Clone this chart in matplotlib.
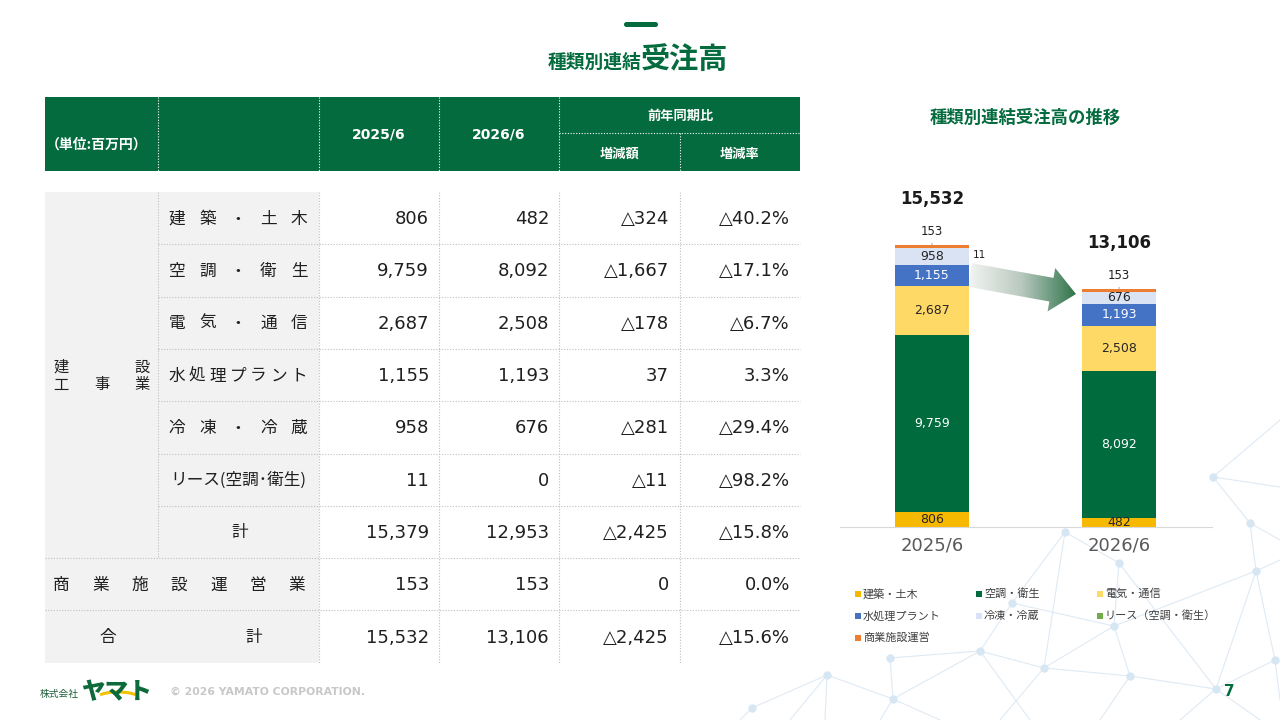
import numpy as np
import matplotlib
matplotlib.use('Agg')
import matplotlib.pyplot as plt
from matplotlib.patches import Rectangle, Polygon, FancyBboxPatch, Arc

plt.rcParams['font.family'] = ['Noto Sans CJK JP', 'DejaVu Sans']
NUMFONT = ['DejaVu Sans', 'Noto Sans CJK JP']

# ---- data (単位: 百万円) ----
periods = ['2025/6', '2026/6']
table_labels = ['建築・土木', '空調・衛生', '電気・通信', '水処理プラント', '冷凍・冷蔵', 'リース(空調･衛生)']
chart_labels = ['建築・土木', '空調・衛生', '電気・通信', '水処理プラント', '冷凍・冷蔵',
                'リース（空調・衛生）', '商業施設運営']
orders_2025 = [806, 9759, 2687, 1155, 958, 11]
orders_2026 = [482, 8092, 2508, 1193, 676, 0]
diff_amount = [-324, -1667, -178, 37, -281, -11]
diff_rate = [-40.2, -17.1, -6.7, 3.3, -29.4, -98.2]

subtotal = [15379, 12953, -2425, -15.8]
commercial = [153, 153, 0, 0.0]
grand_total = [15532, 13106, -2425, -15.6]

colors = ['#f7b900', '#006b3c', '#ffd966', '#4472c4', '#dae3f3', '#70ad47', '#ed7d31']
label_colors = ['#262626', 'white', '#262626', 'white', '#262626']

GREEN = '#036b3d'
DARK = '#1f1f1f'


def fmt(v, pct=False):
    s = f'{abs(v):,.1f}%' if pct else f'{abs(v):,}'
    return '△' + s if v < 0 else s


fig = plt.figure(figsize=(12.8, 7.2), dpi=100)

# background axes in pixel coords (slide furniture + table)
bg = fig.add_axes([0, 0, 1, 1], zorder=0)
bg.set_xlim(0, 1280)
bg.set_ylim(720, 0)
bg.set_autoscale_on(False)
bg.axis('off')

# decorative network
nodes = {
    'a': (1213, 477), 'b': (1250, 523), 'c': (1256, 571), 'd': (1275, 660),
    'e': (1065, 532), 'f': (1119, 563), 'g': (1012, 603), 'h': (1114, 626),
    'i': (980, 651), 'j': (1044, 668), 'k': (1130, 676), 'l': (1216, 689),
    'm': (827, 675), 'n': (893, 699), 'o': (752, 708), 'p': (890, 658),
}
edges = [('a', 'b'), ('b', 'c'), ('c', 'l'), ('c', 'h'), ('e', 'g'), ('e', 'f'), ('e', 'j'),
         ('f', 'h'), ('f', 'l'), ('g', 'i'), ('g', 'h'), ('h', 'j'), ('h', 'k'), ('i', 'j'),
         ('i', 'n'), ('i', 'p'), ('j', 'k'), ('k', 'l'), ('l', 'd'), ('m', 'n'), ('m', 'o'),
         ('p', 'n'), ('c', 'd')]
loose = [('a', (1280, 487)), ('a', (1280, 420)), ('b', (1280, 540)), ('c', (1280, 560)),
         ('i', (1030, 720)), ('j', (1000, 720)), ('k', (1100, 720)), ('l', (1180, 720)),
         ('m', (825, 720)), ('m', (790, 720)), ('n', (880, 720)), ('n', (940, 720)),
         ('o', (740, 720)), ('d', (1280, 700)), ('l', (1260, 720))]
for u, v in edges:
    bg.plot([nodes[u][0], nodes[v][0]], [nodes[u][1], nodes[v][1]], color='#dfeaf4', lw=0.8, zorder=0)
for u, p in loose:
    bg.plot([nodes[u][0], p[0]], [nodes[u][1], p[1]], color='#dfeaf4', lw=0.8, zorder=0)
bg.scatter([p[0] for p in nodes.values()], [p[1] for p in nodes.values()],
           s=36, color='#d6e6f3', zorder=0, linewidths=0)

# title
bg.add_patch(FancyBboxPatch((624, 22), 34, 5, boxstyle='round,pad=0,rounding_size=2.5',
                            color=GREEN, lw=0))
bg.text(641, 68, '種類別連結', ha='right', va='baseline', fontsize=13.5, fontweight='bold', color=GREEN)
bg.text(641, 68, '受注高', ha='left', va='baseline', fontsize=21, fontweight='bold', color=GREEN)

# ---- table ----
col_x = [45, 158, 319, 439, 559, 680, 800]
bg.add_patch(Rectangle((45, 97), 755, 74, color=GREEN, lw=0))
for xv in col_x[1:5]:
    bg.plot([xv, xv], [97, 171], color='white', lw=0.8, ls=(0, (1, 1.5)))
bg.plot([680, 680], [133, 171], color='white', lw=0.8, ls=(0, (1, 1.5)))
bg.plot([559, 800], [133, 133], color='white', lw=0.8, ls=(0, (1, 1.5)))
hk = dict(color='white', fontweight='bold', va='center', ha='center')
bg.text(97, 145, '（単位:百万円）', fontsize=10, **hk)
bg.text(379, 135, periods[0], fontsize=10, family=NUMFONT, **hk)
bg.text(499, 135, periods[1], fontsize=10, family=NUMFONT, **hk)
bg.text(680, 116, '前年同期比', fontsize=9.5, **hk)
bg.text(620, 154, '増減額', fontsize=9.5, **hk)
bg.text(740, 154, '増減率', fontsize=9.5, **hk)

top, rh = 192, 52.3
bg.add_patch(Rectangle((45, top), 274, rh * 9, color='#f2f2f2', lw=0))
dot = dict(color='#bfbfbf', lw=0.8, ls=(0, (1, 1.5)))
for r in range(1, 9):
    y = top + rh * r
    bg.plot([158 if r < 7 else 45, 800], [y, y], **dot)
bg.plot([158, 158], [top, top + rh * 7], **dot)
for xv in col_x[2:6]:
    bg.plot([xv, xv], [top, top + rh * 9], **dot)


def spread(text, x0, x1, y, fs=12):
    n = len(text)
    for k, ch in enumerate(text):
        bg.text(x0 + (x1 - x0) * k / (n - 1), y, ch, ha='center', va='center',
                fontsize=fs, color=DARK)


rows = []
for i in range(6):
    rows.append([orders_2025[i], orders_2026[i], diff_amount[i], diff_rate[i]])
rows += [subtotal, commercial, grand_total]

for r, vals in enumerate(rows):
    yc = top + rh * r + rh / 2 + 1
    if r < 5:
        spread(table_labels[r], 177, 299, yc)
    elif r == 5:
        bg.text(238, yc, table_labels[r], ha='center', va='center', fontsize=12, color=DARK)
    for c, xr in enumerate([429, 549, 669, 790]):
        bg.text(xr, yc, fmt(vals[c], pct=(c == 3)), ha='right', va='center', fontsize=13,
                color=DARK, family=NUMFONT)

yc = top + rh * 6 + rh / 2 + 1
bg.text(240, yc, '計', ha='center', va='center', fontsize=12, color=DARK)
spread('商業施設運営業', 61, 297, top + rh * 7 + rh / 2 + 1)
bg.text(108, top + rh * 8 + rh / 2 + 1, '合', ha='center', va='center', fontsize=12, color=DARK)
bg.text(254, top + rh * 8 + rh / 2 + 1, '計', ha='center', va='center', fontsize=12, color=DARK)
spread('建設', 61, 142, 367, fs=11)
spread('工事業', 61, 142, 385, fs=11)

# ---- chart ----
bg.text(1025, 118, '種類別連結受注高の推移', ha='center', va='center', fontsize=12.5,
        fontweight='bold', color=GREEN)

ax = fig.add_axes([840 / 1280, (720 - 527) / 720, (1212 - 840) / 1280, 347 / 720], zorder=2)
ax.patch.set_alpha(0)
x = np.arange(len(periods))
stack = np.array([orders_2025 + [commercial[0]], orders_2026 + [commercial[1]]]).T
bottom = np.zeros(len(periods))
for i, name in enumerate(chart_labels):
    ax.bar(x, stack[i], 0.396, bottom=bottom, color=colors[i], label=name, lw=0)
    for j in range(len(periods)):
        v = stack[i][j]
        if i < 5:
            ax.text(x[j], bottom[j] + v / 2, f'{v:,}', ha='center', va='center',
                    fontsize=9, color=label_colors[i], family=NUMFONT)
        elif i == 5 and v > 0:
            ax.annotate(f'{v:,}', xy=(x[j] + 0.198, bottom[j] + v), xytext=(3, -5),
                        textcoords='offset points', ha='left', va='center', fontsize=7.5,
                        color=DARK, family=NUMFONT)
        elif i == 6:
            ax.annotate(f'{v:,}', xy=(x[j], bottom[j] + v), xytext=(0, 10),
                        textcoords='offset points', ha='center', va='center', fontsize=8.5,
                        color=DARK, family=NUMFONT,
                        arrowprops=dict(arrowstyle='-', color='#a6a6a6', lw=0.7, shrinkA=2, shrinkB=0))
    bottom += stack[i]

for j in range(len(periods)):
    ax.annotate(f'{grand_total[j]:,}', xy=(x[j], bottom[j]), xytext=(0, 33),
                textcoords='offset points', ha='center', va='center', fontsize=12,
                fontweight='bold', color='#1a1a1a', family=NUMFONT)

ax.set_xlim(-0.492, 1.497)
ax.set_ylim(0, 19110)
ax.set_xticks(x, periods, fontsize=13, color='#595959', family=NUMFONT)
ax.tick_params(axis='x', length=0, pad=7)
ax.set_yticks([])
for s in ['top', 'left', 'right']:
    ax.spines[s].set_visible(False)
ax.spines['bottom'].set_color('#d9d9d9')

# gradient arrow between the bars
arrow_pts = [(972.1, 263.2), (1053.5, 277.9), (1055.2, 268.0), (1076, 294),
             (1047.6, 311.4), (1049.3, 301.5), (967.9, 286.8)]
poly = Polygon(arrow_pts, closed=True, fc='none', ec='none')
bg.add_patch(poly)
grad = np.linspace(0, 1, 256).reshape(1, -1)
cmap = matplotlib.colors.LinearSegmentedColormap.from_list('arr', ['#f7f8f7', '#b9c9bf', '#2a7146'])
im = bg.imshow(grad, extent=(965, 1078, 316, 260), cmap=cmap, aspect='auto', zorder=1)
im.set_clip_path(poly)
bg.set_xlim(0, 1280)
bg.set_ylim(720, 0)

# manual legend (row-major, fixed column positions)
leg_x = [858, 979, 1100]
leg_y = [594, 616, 638]
for k, name in enumerate(chart_labels):
    cx, cy = leg_x[k % 3], leg_y[k // 3]
    bg.add_patch(Rectangle((cx - 3, cy - 3), 6, 6, color=colors[k], lw=0))
    bg.text(cx + 5, cy, name, ha='left', va='center', fontsize=8, color='#404040')

# footer
bg.text(40, 694, '株式会社', ha='left', va='center', fontsize=7, color='#1f5f3a')
bg.text(81, 692, 'ヤマト', ha='left', va='center', fontsize=17, fontweight='heavy', color='#0d6a3a')
bg.add_patch(Arc((118, 698), 42, 12, theta1=190, theta2=350, color='#f2c200', lw=2.2))
bg.text(170, 692, '© 2026 YAMATO CORPORATION.', ha='left', va='center', fontsize=7.8,
        fontweight='bold', color='#c8c8c8', family=NUMFONT)
bg.text(1229, 692, '7', ha='center', va='center', fontsize=11, fontweight='bold', color=GREEN,
        family=NUMFONT)

fig.savefig('out.png', dpi=100)
